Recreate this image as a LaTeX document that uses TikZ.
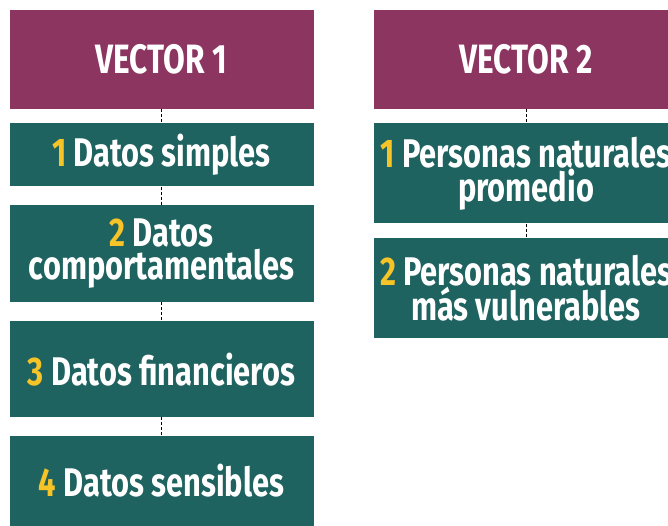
\documentclass[tikz,border=0pt]{standalone}
\usepackage{fontspec}
\newfontfamily\condfont[FakeStretch=0.77]{Fira Sans}
\usetikzlibrary{positioning}
\definecolor{vecpurple}{RGB}{139,53,96}
\definecolor{itemteal}{RGB}{31,99,96}
\definecolor{numyellow}{RGB}{247,196,40}
\newcommand{\itemnum}[1]{\textcolor{numyellow}{#1}}
\tikzset{
    vecbox/.style={
        rectangle,
        fill=vecpurple,
        minimum width=304pt,
        minimum height=99pt,
        inner sep=0pt,
        align=center,
        text=white,
        font=\condfont\bfseries\fontsize{41}{33}\selectfont
    },
    itembox/.style={
        rectangle,
        fill=itemteal,
        minimum width=304pt,
        inner sep=0pt,
        align=center,
        text=white,
        font=\condfont\bfseries\fontsize{40}{33}\selectfont
    },
    link/.style={
        draw=black,
        line width=1pt,
        dash pattern=on 3pt off 2pt
    }
}
\begin{document}
\begin{tikzpicture}[x=1pt, y=1pt]
\useasboundingbox (0,0) rectangle (668,-526);
\begin{scope}
\clip (0,0) rectangle (668,-526);

% Vector 1
\node[vecbox] (vec1) at (161.5,-59.5) {VECTOR 1};
\node[itembox, minimum height=63pt, below=14pt of vec1] (simples) {\itemnum{1} Datos simples};
\node[itembox, minimum height=97pt, below=18pt of simples] (comport) {\itemnum{2} Datos\\comportamentales};
\node[itembox, minimum height=96pt, below=19pt of comport] (financ) {\itemnum{3} Datos financieros};
\node[itembox, minimum height=90pt, below=18pt of financ] (sensib) {\itemnum{4} Datos sensibles};

% Vector 2
\node[vecbox] (vec2) at (526,-59.5) {VECTOR 2};
\node[itembox, minimum height=100pt, below=14pt of vec2] (promedio) {\itemnum{1} Personas naturales\\promedio};
\node[itembox, minimum height=100pt, below=14pt of promedio] (vulner) {\itemnum{2} Personas naturales\\más vulnerables};

\draw[link] (vec1) -- (simples);
\draw[link] (simples) -- (comport);
\draw[link] (comport) -- (financ);
\draw[link] (financ) -- (sensib);
\draw[link] (vec2) -- (promedio);
\draw[link] (promedio) -- (vulner);
\end{scope}
\end{tikzpicture}
\end{document}
